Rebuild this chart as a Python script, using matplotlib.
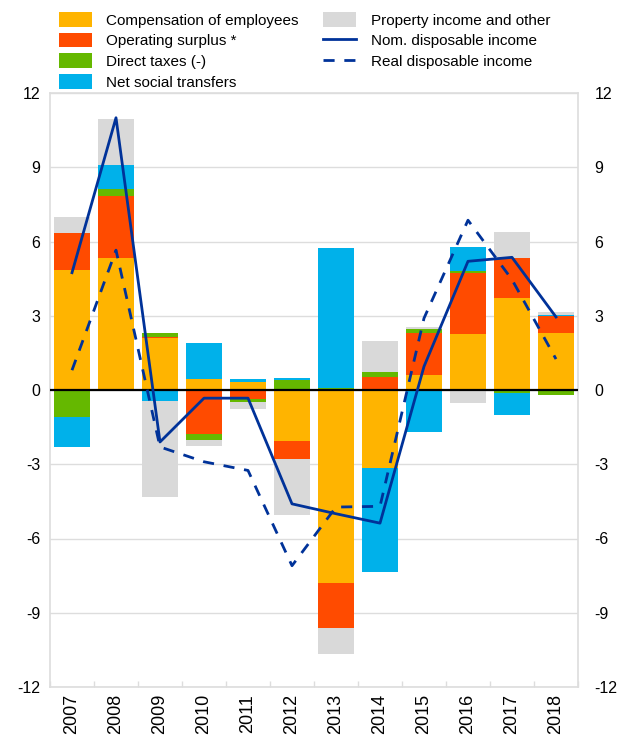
import numpy as np
import matplotlib
matplotlib.use("Agg")
import matplotlib.pyplot as plt
from matplotlib.patches import Patch
from matplotlib.lines import Line2D

plt.rcParams["font.family"] = ["Liberation Sans", "DejaVu Sans"]
plt.rcParams["axes.unicode_minus"] = False

years = ["2007", "2008", "2009", "2010", "2011", "2012",
         "2013", "2014", "2015", "2016", "2017", "2018"]

# contributions (percentage points)
comp = [4.86, 5.35, 2.10, 0.44, 0.32, -2.07, -7.80, -3.17, 0.60, 2.27, 3.73, 2.32]
surplus = [1.50, 2.50, 0.05, -1.76, -0.38, -0.73, -1.80, 0.54, 1.70, 2.47, 1.62, 0.65]
taxes = [-1.10, 0.28, 0.16, -0.24, -0.11, 0.41, 0.10, 0.20, 0.17, 0.07, -0.13, -0.20]
transfers = [-1.20, 0.98, -0.43, 1.46, 0.12, 0.07, 5.65, -4.20, -1.69, 0.95, -0.88, 0.07]
property_inc = [0.62, 1.82, -3.91, -0.26, -0.29, -2.27, -1.07, 1.25, 0.08, -0.53, 1.05, 0.11]

nominal = [4.74, 11.0, -2.10, -0.33, -0.33, -4.60, -5.00, -5.38, 0.95, 5.20, 5.36, 2.95]
real = [0.80, 5.65, -2.30, -2.90, -3.25, -7.10, -4.73, -4.70, 2.90, 6.86, 4.46, 1.25]

series = [
    ("Compensation of employees", comp, "#FFB400"),
    ("Operating surplus *", surplus, "#FF4B00"),
    ("Direct taxes (-)", taxes, "#65B800"),
    ("Net social transfers", transfers, "#00B1EA"),
    ("Property income and other", property_inc, "#D9D9D9"),
]
navy = "#003299"
yticks = np.arange(-12, 13, 3)

fig = plt.figure(figsize=(6.18, 7.36), dpi=100)
ax = fig.add_axes([50 / 618, 1 - 687 / 736, 528 / 618, 594 / 736])

x = np.arange(len(years))
pos = np.zeros(len(years))
neg = np.zeros(len(years))
for name, vals, col in series:
    v = np.array(vals)
    bottom = np.where(v >= 0, pos, neg)
    ax.bar(x, v, width=0.84, bottom=bottom, color=col, zorder=2)
    pos = pos + np.where(v >= 0, v, 0)
    neg = neg + np.where(v < 0, v, 0)

ax.plot(x, nominal, color=navy, lw=2, zorder=4)
ax.plot(x, real, color=navy, lw=2, dashes=(4, 3.5), zorder=4)
ax.axhline(0, color="black", lw=1.6, zorder=3)

ax.set_xlim(-0.5, len(years) - 0.5)
ax.set_ylim(-12, 12)
ax.set_yticks(yticks)
ax.yaxis.grid(True, color="#DDDDDD", lw=1, zorder=0)
ax.tick_params(axis="y", length=0, labelsize=11.5, pad=7)

ax.set_xticks(x)
ax.set_xticklabels(years, rotation=90, fontsize=13)
ax.tick_params(axis="x", length=0, pad=5)
ax.set_xticks(np.arange(-0.5, len(years), 1), minor=True)
ax.tick_params(axis="x", which="minor", length=4, direction="in",
               color="#DDDDDD", width=1)
for s in ax.spines.values():
    s.set_color("#DDDDDD")
    s.set_linewidth(1.2)

# right hand axis labels
ax2 = ax.twinx()
ax2.set_ylim(-12, 12)
ax2.set_yticks(yticks)
ax2.tick_params(axis="y", length=0, labelsize=11.5, pad=12)
for s in ax2.spines.values():
    s.set_visible(False)

handles = [Patch(facecolor=col, label=name) for name, _, col in series]
handles.append(Line2D([], [], color=navy, lw=2, label="Nom. disposable income"))
handles.append(Line2D([], [], color=navy, lw=2, dashes=(4, 3.5),
                      label="Real disposable income"))
fig.legend(handles=handles, ncol=2, loc="upper left",
           bbox_to_anchor=(59 / 618, 1 - 12 / 736), frameon=False,
           fontsize=11, handlelength=2.15, handleheight=1.1,
           labelspacing=0.34, columnspacing=1.6, handletextpad=0.95,
           borderaxespad=0, borderpad=0)

fig.savefig("out.png", dpi=100)
